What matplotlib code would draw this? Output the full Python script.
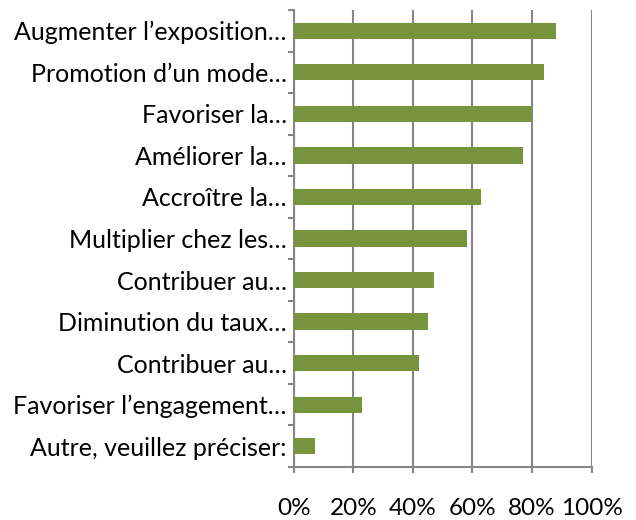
import matplotlib.pyplot as plt
import numpy as np

plt.rcParams['font.family'] = ['Lato', 'DejaVu Sans']

labels = ['Augmenter l’exposition…', 'Promotion d’un mode…', 'Favoriser la…',
          'Améliorer la…', 'Accroître la…', 'Multiplier chez les…',
          'Contribuer au…', 'Diminution du taux…', 'Contribuer au…',
          'Favoriser l’engagement…', 'Autre, veuillez préciser:']
values = [88, 84, 80, 77, 63, 58, 47, 45, 42, 23, 7]
xticks = [0, 20, 40, 60, 80, 100]

grid_col = '#868686'
bar_col = '#77933C'

fig = plt.figure(figsize=(6.36, 5.2), dpi=100)
ax = fig.add_axes([0.4618, 0.1019, 0.4685, 0.8789])

n = len(values)
y = np.arange(n)[::-1]
ax.barh(y, values, height=0.39, color=bar_col, zorder=3)

ax.set_xlim(0, 100)
ax.set_ylim(-0.5, n - 0.5)
ax.set_xticks(xticks)
ax.set_xticklabels(['%d%%' % v for v in xticks])
ax.set_yticks(y)
ax.set_yticklabels(labels)
ax.set_yticks(np.arange(n + 1) - 0.5, minor=True)

ax.grid(axis='x', color=grid_col, linewidth=1.5, zorder=0)
for s in ['top', 'right']:
    ax.spines[s].set_visible(False)
ax.spines['left'].set_color(grid_col)
ax.spines['left'].set_linewidth(1.5)
ax.spines['bottom'].set_color(grid_col)
ax.spines['bottom'].set_linewidth(1.5)

ax.tick_params(axis='y', which='major', length=0, pad=5, labelsize=18)
ax.tick_params(axis='y', which='minor', length=4, width=1.5, color=grid_col, direction='out')
ax.tick_params(axis='x', length=4, width=1.5, color=grid_col, direction='out', pad=18, labelsize=17.5)

fig.savefig('out.png', dpi=100)
